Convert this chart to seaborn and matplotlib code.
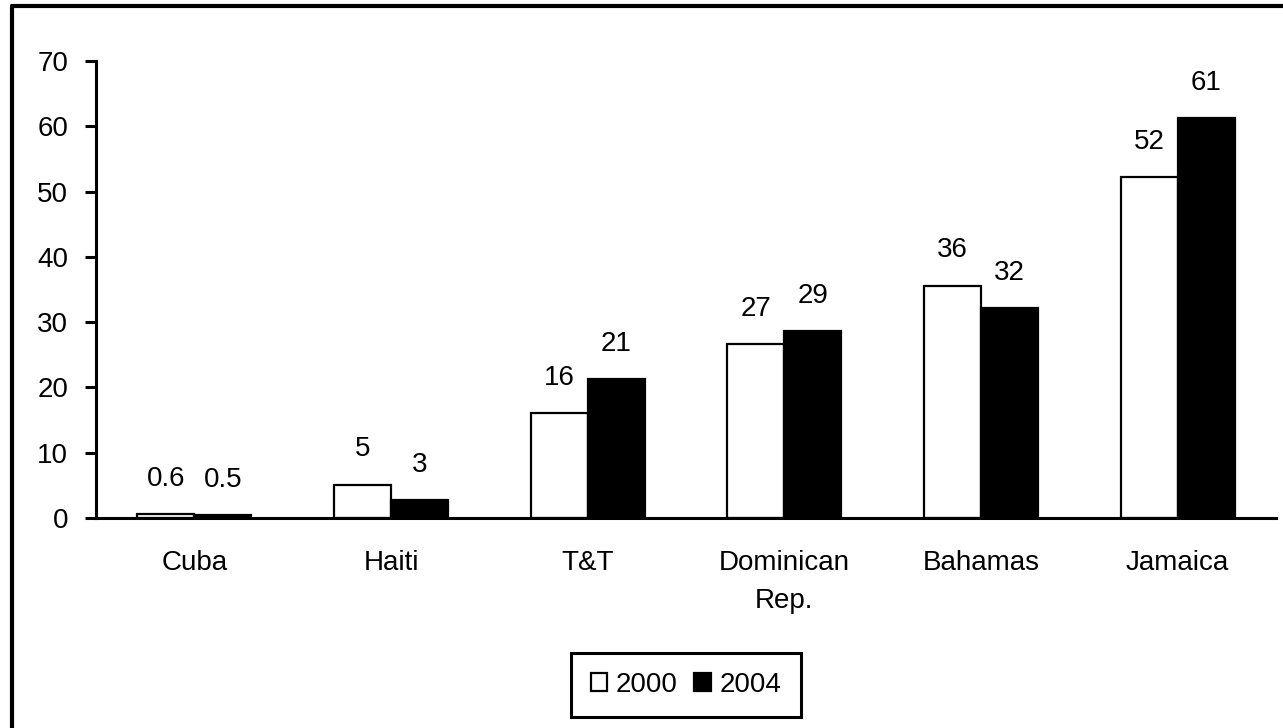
import matplotlib
matplotlib.use("Agg")
import matplotlib.pyplot as plt
import seaborn as sns
import pandas as pd
from matplotlib.lines import Line2D
from matplotlib.patches import Patch

countries = ["Cuba", "Haiti", "T&T", "Dominican\nRep.", "Bahamas", "Jamaica"]
years = ["2000", "2004"]
values_2000 = [0.6, 5.1, 16.1, 26.6, 35.6, 52.2]
values_2004 = [0.5, 2.7, 21.3, 28.6, 32.2, 61.3]
y_ticks = [0, 10, 20, 30, 40, 50, 60, 70]

def fmt(v):
    return f"{v:.1f}" if v < 1 else f"{v:.0f}"

df = pd.DataFrame({
    "country": countries * 2,
    "year": [years[0]] * len(countries) + [years[1]] * len(countries),
    "value": values_2000 + values_2004,
})

sns.set_theme(style="white")
plt.rcParams["font.family"] = ["Liberation Sans", "DejaVu Sans"]
plt.rcParams["text.color"] = "black"
plt.rcParams["xtick.color"] = "black"
plt.rcParams["ytick.color"] = "black"
plt.rcParams["xtick.labelcolor"] = "black"
plt.rcParams["ytick.labelcolor"] = "black"
FS = 20

fig = plt.figure(figsize=(12.83, 7.28), dpi=100)
ax = fig.add_axes([96 / 1283, 1 - 518 / 728, (1276 - 96) / 1283, (518 - 61) / 728])

sns.barplot(data=df, x="country", y="value", hue="year", order=countries,
            hue_order=years, palette={"2000": "white", "2004": "black"},
            width=0.58, edgecolor="black", linewidth=1.6, ax=ax, legend=False,
            errorbar=None)

ax.set_ylim(0, 70)
ax.set_xlim(-0.5, len(countries) - 0.5)
ax.set_yticks(y_ticks)
ax.set_yticklabels([str(t) for t in y_ticks], fontsize=FS, color="black")
ax.set_xticks([i - 0.5 for i in range(len(countries) + 1)])
ax.set_xticklabels([])
ax.set_xticks(range(len(countries)), minor=True)
ax.set_xticklabels(countries, minor=True, fontsize=FS, linespacing=1.6, va="top", color="black")
ax.tick_params(axis="x", which="major", direction="out", length=8, width=2.2, color="black")
ax.tick_params(axis="x", which="minor", length=0, pad=23)
ax.tick_params(axis="y", direction="out", length=8, width=2.2, color="black", pad=12, left=True)
ax.set_xlabel("")
ax.set_ylabel("")
for s in ["top", "right"]:
    ax.spines[s].set_visible(False)
for s in ["left", "bottom"]:
    ax.spines[s].set_color("black")
    ax.spines[s].set_linewidth(2.2)
ax.grid(False)

for cont in ax.containers:
    for bar in cont:
        h = bar.get_height()
        ax.annotate(fmt(h), (bar.get_x() + bar.get_width() / 2, h),
                    xytext=(0, 16), textcoords="offset points",
                    ha="center", va="bottom", fontsize=FS, color="black")

handles = [Patch(facecolor="white", edgecolor="black", linewidth=1.6),
           Patch(facecolor="black", edgecolor="black", linewidth=1.6)]
leg = fig.legend(handles, years, loc="center", bbox_to_anchor=(686 / 1283, 1 - 685 / 728),
                 ncol=2, fontsize=FS, frameon=True, fancybox=False, framealpha=1,
                 handlelength=0.6, handleheight=0.6, handletextpad=0.3,
                 columnspacing=0.6, borderpad=0.7, borderaxespad=0)
leg.get_frame().set_edgecolor("black")
leg.get_frame().set_linewidth(2.2)
for t in leg.get_texts():
    t.set_color("black")

# figure border (left and top visible)
fig.add_artist(Line2D([12 / 1283, 12 / 1283], [0, 1 - 6 / 728], transform=fig.transFigure,
                      color="black", linewidth=3))
fig.add_artist(Line2D([12 / 1283, 1], [1 - 6 / 728, 1 - 6 / 728], transform=fig.transFigure,
                      color="black", linewidth=3))

fig.savefig("out.png", dpi=100, facecolor="white")
